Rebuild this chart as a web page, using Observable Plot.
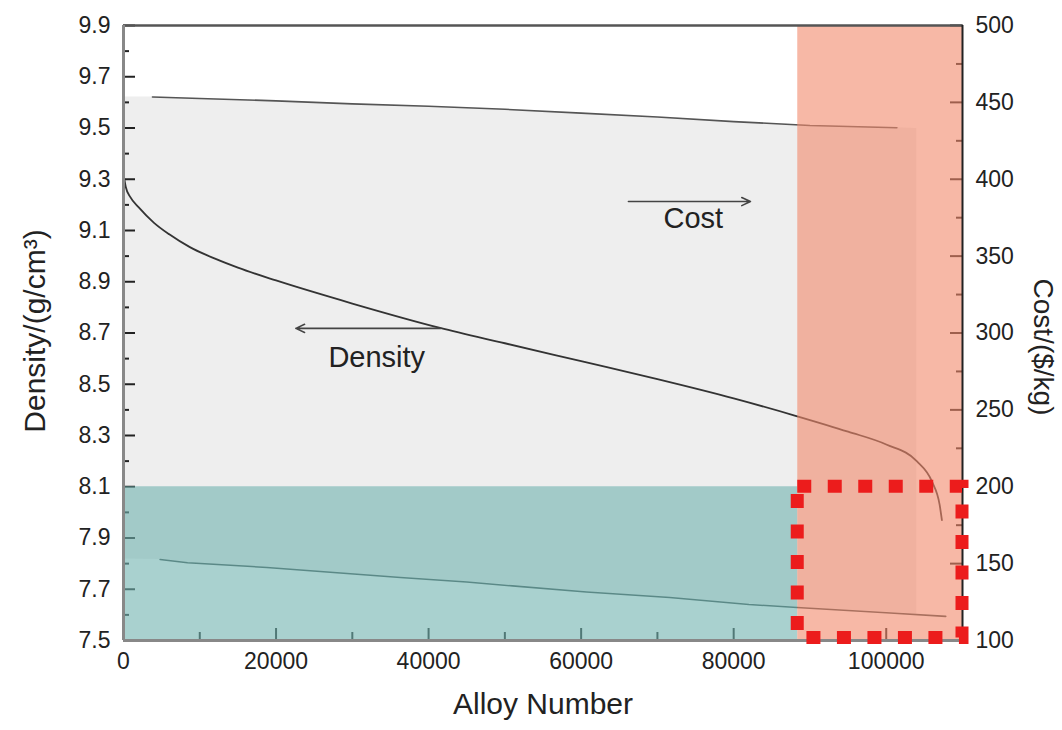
<!DOCTYPE html>
<html>
<head>
<meta charset="utf-8">
<script src="https://cdn.jsdelivr.net/npm/d3@7"></script>
<script src="https://cdn.jsdelivr.net/npm/@observablehq/plot@0.6"></script>
<style>
  html, body { margin: 0; padding: 0; background: #fff; }
  #chart { width: 1062px; height: 730px; }
</style>
</head>
<body>
<div id="chart"></div>
<script>
// ---- Data ----
// Density curve (left axis, g/cm3), sorted alloys
const densityX = [0, 300, 900, 2000, 4000, 6000, 8700, 12000, 15000, 20000, 30000, 41500, 50000, 60000, 70000, 80000, 88000, 95000, 100000, 104000, 106000, 107000, 107300];
const densityY = [9.32, 9.27, 9.23, 9.19, 9.13, 9.085, 9.035, 8.99, 8.955, 8.905, 8.815, 8.72, 8.66, 8.59, 8.52, 8.445, 8.378, 8.315, 8.265, 8.20, 8.12, 8.03, 7.97];

// Cost envelope lines (right axis, $/kg)
const upperX = [3800, 10000, 20000, 30000, 40000, 50000, 60000, 70000, 80000, 90000, 101400];
const upperCost = [453.5, 452.5, 451, 449, 447.5, 445.5, 443, 440.5, 437.5, 435, 433.5];
const lowerX = [4800, 8400, 18800, 29300, 36300, 45000, 51000, 60700, 71600, 82000, 88300, 100000, 107800];
const lowerCost = [152.7, 150.6, 147.5, 143.6, 141, 138, 135.5, 131.5, 128, 123.4, 121.5, 118, 115.7];

// Cost scatter band (right axis, $/kg)
const bandX = [0, 4800, 10000, 20000, 30000, 40000, 50000, 60000, 70000, 80000, 90000, 101400, 104000];
const bandTop = [453.5, 453.5, 452.5, 451, 449, 447.5, 445.5, 443, 440.5, 437.5, 435, 433.5, 433];
const bandBottom = [153, 152.7, 150, 147, 143, 140, 136.5, 132, 128.5, 124.5, 121, 118, 117];

// Highlighted regions
const lowDensityBand = [7.5, 8.1];        // density
const lowCostAlloys = [88400, 110000];    // alloy number
const targetBoxX = [88400, 110000];
const targetBoxDensity = [7.51, 8.1];

// Axes
const xDomain = [0, 110000];
const densityDomain = [7.5, 9.9];
const costDomain = [100, 500];
const xTicks = [0, 20000, 40000, 60000, 80000, 100000];
const xMinorTicks = [10000, 30000, 50000, 70000, 90000];
const densityTicks = [7.5, 7.7, 7.9, 8.1, 8.3, 8.5, 8.7, 8.9, 9.1, 9.3, 9.5, 9.7, 9.9];
const densityMinorTicks = [7.6, 7.8, 8.0, 8.2, 8.4, 8.6, 8.8, 9.0, 9.2, 9.4, 9.6, 9.8];
const costTicks = [100, 150, 200, 250, 300, 350, 400, 450, 500];
const costMinorTicks = [125, 175, 225, 275, 325, 375, 425, 475];

// Annotations
const arrowNotes = [
  {label: "Cost", x1: 66200, y1: 9.213, x2: 82200, y2: 9.213, tx: 74700, ty: 9.147},
  {label: "Density", x1: 41600, y1: 8.718, x2: 22600, y2: 8.718, tx: 33200, ty: 8.604}
];

// ---- Build ----
const toD = c => densityDomain[0] + (c - costDomain[0]) / (costDomain[1] - costDomain[0]) * (densityDomain[1] - densityDomain[0]);
const fromD = d => costDomain[0] + (d - densityDomain[0]) / (densityDomain[1] - densityDomain[0]) * (costDomain[1] - costDomain[0]);

const densityRows = densityX.map((x, i) => ({x, y: densityY[i]}));
const upperRows = upperX.map((x, i) => ({x, y: toD(upperCost[i])}));
const lowerRows = lowerX.map((x, i) => ({x, y: toD(lowerCost[i])}));
const bandRows = bandX.map((x, i) => ({x, y1: toD(bandBottom[i]), y2: toD(bandTop[i])}));

const FONT = "'Liberation Sans', Arial, Helvetica, sans-serif";
const tickColor = "#222";

const chart = Plot.plot({
  width: 1062,
  height: 730,
  marginLeft: 123,
  marginRight: 100,
  marginTop: 25,
  marginBottom: 90,
  style: {fontFamily: FONT, background: "#fff", color: "#222"},
  x: {domain: xDomain},
  y: {domain: densityDomain},
  marks: [
    Plot.areaY(bandRows, {x: "x", y1: "y1", y2: "y2", fill: "#eeeeee", curve: "linear"}),
    Plot.line(upperRows, {x: "x", y: "y", stroke: "#555", strokeWidth: 1.6}),
    Plot.line(lowerRows, {x: "x", y: "y", stroke: "#3d4d4d", strokeWidth: 1.6}),
    Plot.line(densityRows, {x: "x", y: "y", stroke: "#333", strokeWidth: 1.8, curve: "monotone-x"}),

    // axes (ticks point inward)
    Plot.axisY({anchor: "left", ticks: densityTicks, tickSize: -12, tickPadding: 25, tickFormat: d => d.toFixed(1), fontSize: 23, stroke: tickColor, strokeWidth: 2, label: null}),
    Plot.axisY({anchor: "left", ticks: densityMinorTicks, tickSize: -6, tickFormat: () => "", stroke: tickColor, strokeWidth: 2, label: null}),
    Plot.axisY({anchor: "right", ticks: costTicks.map(toD), tickSize: -13, tickPadding: 26, tickFormat: d => String(Math.round(fromD(d))), fontSize: 23, stroke: tickColor, strokeWidth: 2, label: null}),
    Plot.axisY({anchor: "right", ticks: costMinorTicks.map(toD), tickSize: -7, tickFormat: () => "", stroke: tickColor, strokeWidth: 2, label: null}),
    Plot.axisX({anchor: "bottom", ticks: xTicks, tickSize: -12, tickPadding: 24, tickFormat: d => String(d), fontSize: 23, stroke: tickColor, strokeWidth: 2, label: null}),
    Plot.axisX({anchor: "bottom", ticks: xMinorTicks, tickSize: -8, tickFormat: () => "", stroke: tickColor, strokeWidth: 2, label: null}),

    // highlighted regions
    Plot.rect([lowDensityBand], {x1: () => xDomain[0], x2: () => lowCostAlloys[0], y1: d => d[0], y2: d => d[1], fill: "#70b2af", fillOpacity: 0.6}),
    Plot.rect([lowCostAlloys], {x1: d => d[0], x2: d => d[1], y1: () => densityDomain[0], y2: () => densityDomain[1], fill: "#f2886a", fillOpacity: 0.6}),

    // frame
    Plot.ruleY([densityDomain[1]], {stroke: "#555", strokeWidth: 2.5}),
    Plot.ruleX([xDomain[1]], {stroke: "#222", strokeWidth: 2}),
    Plot.ruleX([xDomain[0]], {stroke: "#888", strokeWidth: 3}),
    Plot.ruleY([densityDomain[0]], {stroke: "#888", strokeWidth: 3}),

    // red dotted target box
    Plot.rect([0], {x1: () => targetBoxX[0], x2: () => targetBoxX[1], y1: () => targetBoxDensity[0], y2: () => targetBoxDensity[1], fill: "none", stroke: "#ec1c1c", strokeWidth: 13, strokeDasharray: "14,16.5"}),

    // annotations
    Plot.arrow(arrowNotes, {x1: "x1", y1: "y1", x2: "x2", y2: "y2", stroke: "#444", strokeWidth: 1.6, headLength: 9, headAngle: 50}),
    Plot.text(arrowNotes, {x: "tx", y: "ty", text: "label", fontSize: 29, fill: "#222"}),

    // axis titles
    Plot.text(["Density/(g/cm³)"], {frameAnchor: "left", textAnchor: "middle", dx: -88, dy: -2, rotate: -90, fontSize: 30, fill: "#222"}),
    Plot.text(["Cost/($/kg)"], {frameAnchor: "right", textAnchor: "middle", dx: 80, dy: 14, rotate: 90, fontSize: 28, fill: "#222"}),
    Plot.text(["Alloy Number"], {frameAnchor: "bottom", dy: 73, fontSize: 30, fill: "#222"})
  ]
});
document.getElementById("chart").appendChild(chart);
</script>
</body>
</html>
